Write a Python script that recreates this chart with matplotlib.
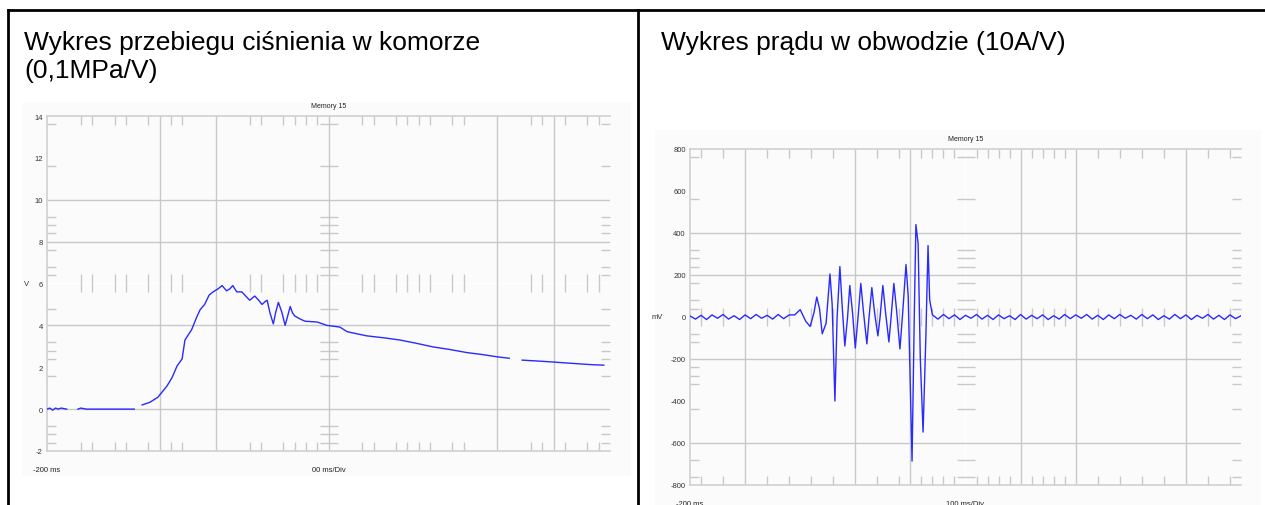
import numpy as np
import matplotlib
matplotlib.use("Agg")
import matplotlib.pyplot as plt
from matplotlib.lines import Line2D

plt.rcParams['font.family'] = ['Liberation Sans', 'DejaVu Sans']

# --- dane: cisnienie w komorze (V), czas w ms ---
czas_cis = [-200, -195, -190, -185, -180, -175, -165, -155,
            -145, -140, -130, -120, -110, -100, -90, -80, -70, -60, -50, -45, -38,
            -31, -17, -3, 13, 22, 31, 40, 45, 57, 66, 72, 80, 88, 95, 104, 111,
            119, 125, 130, 137, 146, 153, 160, 169, 176, 182, 188, 191, 196, 202,
            206, 211, 217, 223, 228, 232, 236, 240, 250, 258, 280, 297, 320, 333,
            350, 368, 400, 427, 455, 486, 515, 546, 575, 599, 621, 632, 644, 670,
            699, 725, 752, 770, 789]
cisnienie = [0.0, 0.05, -0.05, 0.05, 0.0, 0.05, 0.0, np.nan,
             0.0, 0.05, 0.0, 0.0, 0.0, 0.0, 0.0, 0.0, 0.0, 0.0, 0.0, 0.0, np.nan,
             0.2, 0.33, 0.57, 1.1, 1.5, 2.06, 2.4, 3.3, 3.8, 4.4, 4.75, 5.0, 5.45,
             5.6, 5.75, 5.9, 5.65, 5.75, 5.9, 5.6, 5.6, 5.4, 5.2, 5.4, 5.2, 5.0,
             5.15, 5.2, 4.6, 4.07, 4.6, 5.1, 4.64, 4.0, 4.5, 4.9, 4.6, 4.45, 4.3,
             4.2, 4.16, 4.0, 3.92, 3.7, 3.6, 3.5, 3.4, 3.3, 3.15, 2.97, 2.85, 2.7,
             2.6, 2.5, 2.43, np.nan, 2.34, 2.3, 2.25, 2.2, 2.15, 2.12, 2.1]

# --- dane: prad w obwodzie (mV), czas w ms ---
czas_prad = [-200, -190, -180, -170, -160, -150, -140, -130, -120, -110, -100,
             -90, -80, -70, -60, -50, -40, -30, -20, -10, 0, 10, 18, 25, 30, 35,
             40, 47, 54, 58, 63, 67, 72, 76, 81, 86, 90, 95, 100, 105, 110, 115,
             121, 125, 130, 135, 141, 145, 150, 155, 161, 165, 170, 175, 181, 186,
             192, 196, 203, 207, 210, 214, 218, 223, 228, 232, 235, 240, 250, 260,
             270, 280, 290, 300, 310, 320, 330, 340, 350, 360, 370, 380, 390, 400,
             410, 420, 430, 440, 450, 460, 470, 480, 490, 500, 510, 520, 530, 540,
             550, 560, 570, 580, 590, 600, 610, 620, 630, 640, 650, 660, 670, 680,
             690, 700, 710, 720, 730, 740, 750, 760, 770, 780, 790, 800]
prad = [5, -10, 8, -12, 10, -6, 12, -10, 6, -12, 10, -8, 12, -6, 8, -10,
        12, -8, 10, 10, 35, -20, -45, 20, 95, 40, -80, -30, 205, 60, -400, 0,
        240, 60, -138, 0, 150, 20, -148, 0, 160, 20, -128, 0, 140, 20, -90, 0,
        150, 20, -119, 0, 160, 30, -152, 20, 250, 100, -686, 0, 440, 350, -200,
        -548, -100, 340, 80, 10, -10, 12, -8, 10, -12, 8, -6, 12, -10, 8,
        -12, 10, -8, 6, -12, 12, -10, 8, -8, 10, -12, 6, -10, 12, -8, 10,
        -6, 12, -10, 8, -12, 10, -8, 12, -6, 8, -10, 12, -8, 10, -12, 6,
        -10, 12, -8, 10, -12, 8, -6, 12, -10, 8, -12, 10, -8, 6]

# podzialki i siatka (jak na oscyloskopie)
lewy_y_etyk = [14, 12, 10, 8, 6, 4, 2, 0, -2]
lewy_siatka_y = [10, 8, 4, 0]
lewy_siatka_x = [0, 100, 300, 600, 700]
lewy_minor_x = [-140, -120, -80, -60, -20, 20, 40, 160, 180, 220, 240, 260, 280,
                360, 380, 420, 440, 460, 480, 520, 540, 660, 680, 720, 760, 780]
lewy_minor_y = [13.6, 11.6, 9.2, 8.8, 8.4, 7.6, 6.8, 6.4, 4.8, 3.2, 2.8, 2.4,
                1.6, -0.8, -1.2, -1.6]

prawy_y_etyk = [800, 600, 400, 200, 0, -200, -400, -600, -800]
prawy_siatka_y = [400, 200, -200, -600]
prawy_siatka_x = [-100, 100, 200, 400, 500, 700]
prawy_minor_x = [-180, -140, -60, -20, 20, 60, 140, 180, 220, 240, 260, 280, 320,
                 340, 360, 380, 420, 440, 460, 480, 540, 580, 620, 660, 740, 780]
prawy_minor_y = [760, 560, 320, 280, 240, 160, 80, 40, -80, -120, -240, -280,
                 -320, -440, -680, -760]

W, H = 1265, 506
SZARY = '#c8c8c8'
NIEBIESKI = '#2a2aff'


def ramka(x0, y0, x1, y1):
    return [x0 / W, 1 - y1 / H, (x1 - x0) / W, (y1 - y0) / H]


def oscyloskop(ax, t, v, xlim, ylim, y_etyk, siatka_x, siatka_y, minor_x, minor_y,
               ylabel, ylabel_x, opis_x):
    ax.set_xlim(*xlim)
    ax.set_ylim(*ylim)
    for g in siatka_y:
        ax.axhline(g, color=SZARY, lw=1.0, zorder=1)
    for g in siatka_x:
        ax.axvline(g, color=SZARY, lw=1.0, zorder=1)
    for s in ['top', 'bottom', 'left']:
        ax.spines[s].set_color('#d0d0d0')
        ax.spines[s].set_linewidth(1.2)
    ax.spines['right'].set_visible(False)

    ax.set_yticks(y_etyk)
    ax.set_yticklabels([str(e) for e in y_etyk])
    ax.tick_params(axis='y', which='major', length=0, pad=3, labelsize=5.5,
                   labelcolor='#333333')
    ax.set_yticks(minor_y, minor=True)
    ax.tick_params(axis='y', which='minor', direction='in', length=6.5,
                   left=True, right=True, color=SZARY, width=1)
    ax.set_xticks([])
    ax.set_xticks(minor_x, minor=True)
    ax.tick_params(axis='x', which='minor', direction='in', length=6.5,
                   top=True, bottom=True, color=SZARY, width=1)

    # podzialki na osiach srodkowych
    sx = ax.secondary_xaxis(0.5)
    sx.set_xticks(minor_x)
    sx.tick_params(direction='inout', length=13, color=SZARY, width=1,
                   labeltop=False, labelbottom=False)
    for s in sx.spines.values():
        s.set_visible(False)
    sy = ax.secondary_yaxis(0.5)
    sy.set_yticks(minor_y)
    sy.tick_params(direction='inout', length=13, color=SZARY, width=1,
                   labelleft=False, labelright=False)
    for s in sy.spines.values():
        s.set_visible(False)

    ax.plot(t, v, color=NIEBIESKI, lw=1.0, zorder=3)

    ax.text(0.5, 1.02, 'Memory 15', transform=ax.transAxes, fontsize=5,
            ha='center', va='bottom', color='#222222')
    ax.text(ylabel_x, 0.5, ylabel, transform=ax.transAxes, fontsize=5.5,
            ha='center', va='center', color='#333333')
    ax.text(0.0, -0.055, '-200 ms', transform=ax.transAxes, fontsize=5.5,
            ha='center', va='center', color='#222222')
    ax.text(0.5, -0.055, opis_x, transform=ax.transAxes, fontsize=5.5,
            ha='center', va='center', color='#222222')


fig = plt.figure(figsize=(W / 100, H / 100), dpi=100)

# delikatne tlo obrazkow z oscyloskopu
fig.patches.append(plt.Rectangle((22 / W, 1 - 476 / H), 608 / W, 372 / H,
                                 transform=fig.transFigure, color='#fbfbfb',
                                 zorder=-5))
fig.patches.append(plt.Rectangle((655 / W, 0), 605 / W, 375 / H,
                                 transform=fig.transFigure, color='#fbfbfb',
                                 zorder=-5))

ax1 = fig.add_axes(ramka(47, 117, 610, 452))
ax1.patch.set_alpha(0)
oscyloskop(ax1, czas_cis, cisnienie, (-200, 800), (-2, 14), lewy_y_etyk,
           lewy_siatka_x, lewy_siatka_y, lewy_minor_x, lewy_minor_y,
           'V', -0.036, '00 ms/Div')

ax2 = fig.add_axes(ramka(690, 150, 1241, 486))
ax2.patch.set_alpha(0)
oscyloskop(ax2, czas_prad, prad, (-200, 800), (-800, 800), prawy_y_etyk,
           prawy_siatka_x, prawy_siatka_y, prawy_minor_x, prawy_minor_y,
           'mV', -0.06, '100 ms/Div')

# linie tabeli
fig.add_artist(Line2D([8 / W, 1], [1 - 11 / H] * 2, color='black', lw=2))
fig.add_artist(Line2D([8 / W] * 2, [0, 1 - 11 / H], color='black', lw=2))
fig.add_artist(Line2D([638 / W] * 2, [0, 1 - 11 / H], color='black', lw=2))

fig.text(24 / W, 1 - 31 / H, 'Wykres przebiegu ciśnienia w komorze\n(0,1MPa/V)',
         fontsize=19, va='top', ha='left', linespacing=1.2)
fig.text(661 / W, 1 - 31 / H, 'Wykres prądu w obwodzie (10A/V)',
         fontsize=19, va='top', ha='left')

fig.savefig('out.png', dpi=100)
